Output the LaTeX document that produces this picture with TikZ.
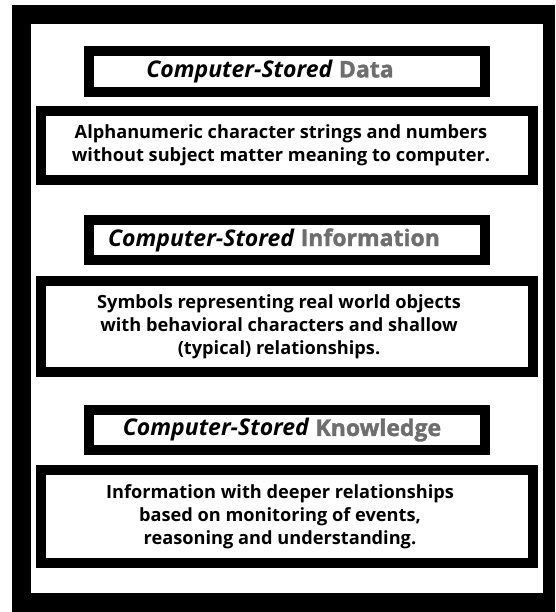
\documentclass[tikz,border=0pt]{standalone}
\usepackage{fontspec}
\setmainfont{Open Sans}
\newfontfamily\heavyfont[BoldFeatures={FakeBold=1.5}]{Open Sans}
\definecolor{titlegray}{HTML}{6E6E6E}
\begin{document}
\begin{tikzpicture}[x=1pt,y=-1pt,
  titlebox/.style={draw=black,line width=10pt,fill=white,minimum width=396pt,inner sep=0pt},
  descbox/.style={draw=black,line width=10pt,fill=white,minimum width=492pt,inner sep=0pt},
  titletext/.style={font=\bfseries\fontsize{23}{27}\selectfont},
  desctext/.style={align=center,font=\bfseries\fontsize{18.2}{23}\selectfont}]
\useasboundingbox (0,0) rectangle (555,612);
\fill[black] (12,5) rectangle (555,612);
\fill[white] (31,24) rectangle (543,593);
% Data
\node[titlebox,minimum height=41pt] (t1) at (287,71.5) {};
\node[titletext] (t1t) at (270,71.5) {\textit{Computer-Stored} {\heavyfont\bfseries\textcolor{titlegray}{Data}}};
\node[descbox,minimum height=68.5pt] (d1) at (287,145.75) {};
\node[desctext] (d1t) at (281,145.75) {Alphanumeric character strings and numbers\\without subject matter meaning to computer.};
% Information
\node[titlebox,minimum height=40pt] (t2) at (287,240) {};
\node[titletext] (t2t) at (274,240) {\textit{Computer-Stored} {\heavyfont\bfseries\textcolor{titlegray}{Information}}};
\node[descbox,minimum height=91pt] (d2) at (287,326.5) {};
\node[desctext] (d2t) at (279,327) {Symbols representing real world objects\\with behavioral characters and shallow\\(typical) relationships.};
% Knowledge
\node[titlebox,minimum height=40pt] (t3) at (287,430) {};
\node[titletext] (t3t) at (282,430) {\textit{Computer-Stored} {\heavyfont\bfseries\textcolor{titlegray}{Knowledge}}};
\node[descbox,minimum height=93pt] (d3) at (287,516.5) {};
\node[desctext] (d3t) at (280,516.5) {Information with deeper relationships\\based on monitoring of events,\\reasoning and understanding.};
\end{tikzpicture}
\end{document}
